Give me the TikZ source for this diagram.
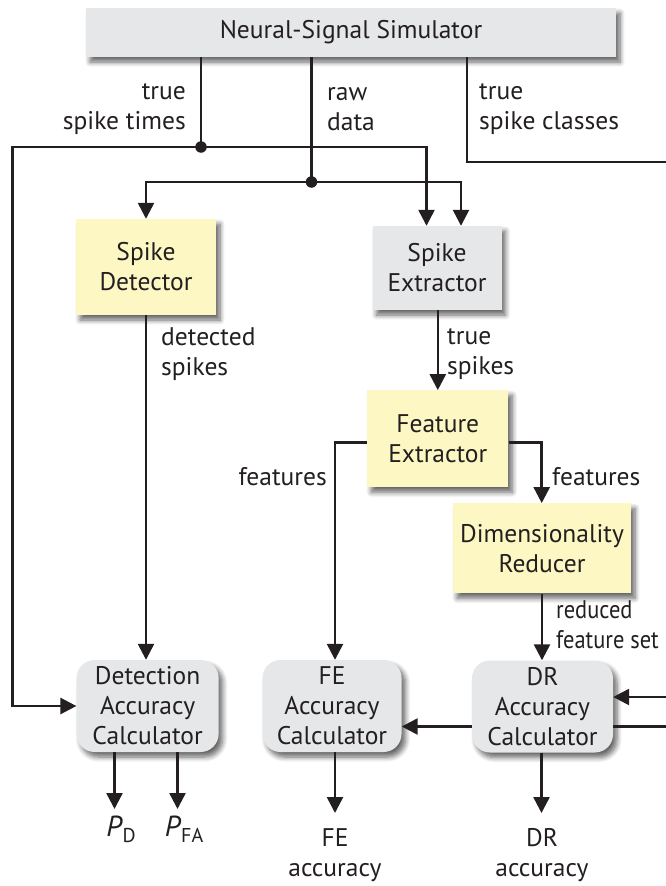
\documentclass[tikz,border=0pt]{standalone}
\usepackage{fontspec}
\setmainfont{PT Sans}
\usetikzlibrary{arrows.meta,shadows.blur}
\definecolor{ink}{HTML}{231F20}
\definecolor{ylw}{HTML}{FDF7C3}
\definecolor{gry}{HTML}{E6E7E8}
\begin{document}
\begin{tikzpicture}[x=1pt,y=-1pt,
  font=\fontsize{25.5}{30}\selectfont,
  every node/.style={text=ink},
  box/.style={draw=none, inner sep=0pt, align=center,
    blur shadow={shadow xshift=4pt, shadow yshift=-5pt, shadow blur steps=7, shadow blur radius=5pt, shadow opacity=60}},
  ybox/.style={box, fill=ylw},
  gbox/.style={box, fill=gry},
  calc/.style={box, fill=gry, rounded corners=18pt},
  wire/.style={line width=2.5pt, draw=ink},
  arr/.style={wire, -{Triangle[width=16pt,length=16pt]}},
  dot/.style={circle, fill=ink, inner sep=0pt, minimum size=11.5pt},
  lbl/.style={align=left, inner sep=0pt},
  lblr/.style={align=right, inner sep=0pt}
]
\useasboundingbox (0,0) rectangle (666,886);

% boxes
\node[gbox, minimum width=530pt, minimum height=49pt] (sim) at (351,32.5) {Neural-Signal Simulator};
\node[ybox, minimum width=140pt, minimum height=96pt] (det) at (146,267) {Spike\\Detector};
\node[gbox, minimum width=129pt, minimum height=84pt] (ext) at (437,268) {Spike\\Extractor};
\node[ybox, minimum width=141pt, minimum height=97pt] (fe) at (437.8,438.8) {Feature\\Extractor};
\node[ybox, minimum width=178pt, minimum height=90pt] (dr) at (542,548.3) {Dimensionality\\Reducer};
\node[calc, minimum width=142pt, minimum height=92pt] (dac) at (147.6,706) {Detection\\Accuracy\\Calculator};
\node[calc, minimum width=139pt, minimum height=92pt] (feac) at (332,706) {FE\\Accuracy\\Calculator};
\node[calc, minimum width=141pt, minimum height=92pt] (drac) at (542.5,706.5) {DR\\Accuracy\\Calculator};

% junctions
\node[dot] (j1) at (201,147) {};
\node[dot] (j2) at (311.5,182) {};
\coordinate (cl) at (12.5,147);
\coordinate (e1) at (426.5,147);
\coordinate (e2) at (461,182);
\coordinate (c1) at (467,57);
\coordinate (cr) at (670,162);

% simulator outputs
\draw[wire] (sim.south -| j1) -- (j1.center);
\draw[wire] (sim.south -| j2) -- (j2.center);
\draw[wire] (sim.south -| c1) |- (cr);
\draw[arr] (j1.center) -- (cl) |- (dac.west);
\draw[arr] (j1.center) -- (e1) -- (e1 |- ext.north);
\draw[arr] (j2.center) -| (det.north);
\draw[arr] (j2.center) -- (e2) -- (e2 |- ext.north);

% labels top
\node[lblr, anchor=east] (l1) at (186,109) {true\\spike times};
\node[lbl, anchor=west] (l2) at (327,109) {raw\\data};
\node[lbl, anchor=west] (l3) at (479,109) {true\\spike classes};

% middle
\draw[arr] (det.south) -- (det.south |- dac.north);
\node[lbl, anchor=west] (l4) at (161,354) {detected\\spikes};
\draw[arr] (ext.south -| fe.north) -- (fe.north);
\node[lbl, anchor=west] (l5) at (447,354) {true\\spikes};

\coordinate (fl) at (335,442.7);
\coordinate (fr) at (541.7,442.7);
\draw[arr] (fe.west |- fl) -- (fl) -- (fl |- feac.north);
\draw[arr] (fe.east |- fr) -- (fr) -- (fr |- dr.north);
\node[lblr, anchor=east] (l6) at (327,477) {features};
\node[lbl, anchor=west] (l7) at (552,477) {features};

\draw[arr] (dr.south) -- (dr.south |- drac.north);
\node[lbl, anchor=west] (l8) at (556,625) {\scalebox{0.88}[1]{reduced}\\\scalebox{0.88}[1]{feature set}};

% right inputs
\coordinate (r1) at (670,697);
\coordinate (r2) at (670,726.5);
\draw[arr] (r1) -- (r1 -| drac.east);
\draw[wire] (r2) -- (r2 -| drac.east);
\draw[arr] (r2 -| drac.west) -- (r2 -| feac.east);

% outputs
\coordinate (o1) at (114.5,809);
\coordinate (o2) at (177.5,809);
\coordinate (o3) at (335,813);
\coordinate (o4) at (541.5,813);
\draw[arr] (o1 |- dac.south) -- (o1);
\draw[arr] (o2 |- dac.south) -- (o2);
\draw[arr] (o3 |- feac.south) -- (o3);
\draw[arr] (o4 |- drac.south) -- (o4);
\node[inner sep=0pt] (pd) at (121,829) {\fontsize{29}{30}\selectfont\textit{P}\raisebox{-6pt}{\fontsize{20}{20}\selectfont D}};
\node[inner sep=0pt] (pfa) at (184,829) {\fontsize{29}{30}\selectfont\textit{P}\raisebox{-6pt}{\fontsize{20}{20}\selectfont FA}};
\node[align=center, inner sep=0pt] (feo) at (335,855) {FE\\accuracy};
\node[align=center, inner sep=0pt] (dro) at (542,855) {DR\\accuracy};
\end{tikzpicture}
\end{document}
